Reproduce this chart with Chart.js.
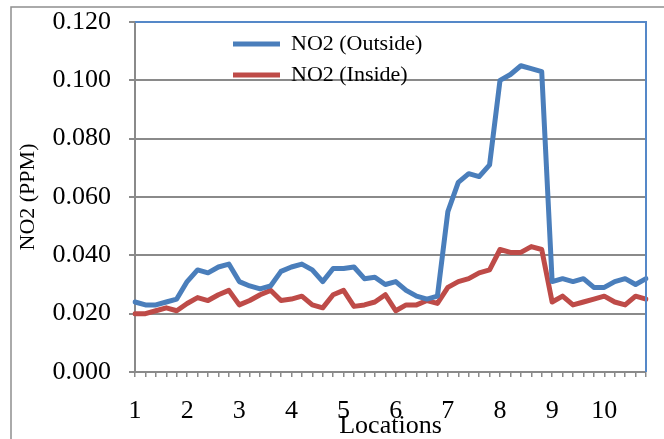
<!DOCTYPE html>
<html>
<head>
<meta charset="utf-8">
<script src="https://cdn.jsdelivr.net/npm/chart.js@4/dist/chart.umd.min.js"></script>
<style>
  html, body { margin: 0; padding: 0; background: #fff; }
  #wrap { width: 664px; height: 439px; }
</style>
</head>
<body>
<div id="wrap"><canvas id="no2Chart" width="664" height="439"></canvas></div>
<script>
// Sampling locations; each location has five consecutive readings
const locations = ['1', '2', '3', '4', '5', '6', '7', '8', '9', '10'];
const samplesPerLocation = 5;

// NO2 concentration (ppm) measured outside
const no2Outside = [
  0.024, 0.023, 0.023, 0.024, 0.025, 0.031, 0.035, 0.034, 0.036, 0.037,
  0.031, 0.0295, 0.0285, 0.0295, 0.0345, 0.036, 0.037, 0.035, 0.031, 0.0355,
  0.0355, 0.036, 0.032, 0.0325, 0.030, 0.031, 0.028, 0.026, 0.025, 0.026,
  0.055, 0.065, 0.068, 0.067, 0.071, 0.100, 0.102, 0.105, 0.104, 0.103,
  0.031, 0.032, 0.031, 0.032, 0.029, 0.029, 0.031, 0.032, 0.030, 0.032
];

// NO2 concentration (ppm) measured inside
const no2Inside = [
  0.020, 0.020, 0.021, 0.022, 0.021, 0.0235, 0.0255, 0.0245, 0.0265, 0.028,
  0.023, 0.0245, 0.0265, 0.028, 0.0245, 0.025, 0.026, 0.023, 0.022, 0.0265,
  0.028, 0.0225, 0.023, 0.024, 0.0265, 0.021, 0.023, 0.023, 0.0245, 0.0235,
  0.029, 0.031, 0.032, 0.034, 0.035, 0.042, 0.041, 0.041, 0.043, 0.042,
  0.024, 0.026, 0.023, 0.024, 0.025, 0.026, 0.024, 0.023, 0.026, 0.025
];

// Y axis range and step
const yMin = 0;
const yMax = 0.12;
const yStep = 0.02;

// One category per reading, labelled with its location on the first reading
const categories = no2Outside.map((_, i) =>
  i % samplesPerLocation === 0 ? locations[i / samplesPerLocation] : '');

const SERIF = "'Liberation Serif', 'Times New Roman', serif";
Chart.defaults.font.family = SERIF;
Chart.defaults.color = '#000';

const AXIS_GRAY = '#8a8a8a';

// Frame around the figure plus the blue top/right edge of the plot area
const framePlugin = {
  id: 'frame',
  beforeDraw(chart) {
    const ctx = chart.ctx;
    ctx.save();
    ctx.fillStyle = '#fff';
    ctx.fillRect(0, 0, chart.width, chart.height);
    ctx.strokeStyle = '#8f8f8f';
    ctx.lineWidth = 1.5;
    ctx.beginPath();
    ctx.moveTo(11, chart.height + 5);
    ctx.lineTo(11, 7);
    ctx.lineTo(chart.width + 5, 7);
    ctx.stroke();
    ctx.restore();
  },
  afterDraw(chart) {
    const {ctx, chartArea: a} = chart;
    ctx.save();
    ctx.strokeStyle = '#5588c8';
    ctx.lineWidth = 2;
    ctx.beginPath();
    ctx.moveTo(a.left, a.top);
    ctx.lineTo(a.right, a.top);
    ctx.lineTo(a.right, a.bottom);
    ctx.stroke();
    ctx.restore();
  }
};

// Place the legend inside the plot, towards its upper middle
const legendShift = {
  id: 'legendShift',
  afterLayout(chart) {
    if (chart.legend) {
      chart.legend.left = 224;
      chart.legend.top = chart.chartArea.top + 2;
    }
  }
};

new Chart(document.getElementById('no2Chart'), {
  type: 'line',
  data: {
    labels: categories,
    datasets: [
      {
        label: 'NO2 (Outside)',
        data: no2Outside,
        borderColor: '#4a7ebb',
        backgroundColor: '#4a7ebb',
        borderWidth: 5,
        borderCapStyle: 'round',
        borderJoinStyle: 'round',
        pointRadius: 0,
        tension: 0
      },
      {
        label: 'NO2 (Inside)',
        data: no2Inside,
        borderColor: '#be4b48',
        backgroundColor: '#be4b48',
        borderWidth: 5,
        borderCapStyle: 'round',
        borderJoinStyle: 'round',
        pointRadius: 0,
        tension: 0
      }
    ]
  },
  options: {
    responsive: false,
    animation: false,
    events: [],
    layout: { padding: { top: 22, right: 18, left: 0, bottom: 0 } },
    plugins: {
      tooltip: { enabled: false },
      legend: {
        position: 'chartArea',
        align: 'start',
        labels: {
          usePointStyle: true,
          pointStyle: 'line',
          pointStyleWidth: 47,
          padding: 9,
          color: '#000',
          font: { family: SERIF, size: 22 }
        }
      }
    },
    scales: {
      x: {
        type: 'category',
        offset: false,
        afterFit(scale) {
          scale.height = 67;
          scale.paddingLeft = 0;
          scale.paddingRight = 0;
        },
        grid: {
          display: true,
          drawOnChartArea: false,
          drawTicks: true,
          tickLength: 5,
          color: AXIS_GRAY,
          lineWidth: 1.5
        },
        border: { display: true, color: AXIS_GRAY, width: 2 },
        ticks: {
          autoSkip: false,
          maxRotation: 0,
          minRotation: 0,
          padding: 19,
          font: { family: SERIF, size: 26 },
          color: '#000'
        },
        title: {
          display: true,
          text: 'Locations',
          font: { family: SERIF, size: 26, lineHeight: 1 },
          padding: { top: 0, bottom: 0 },
          color: '#000'
        }
      },
      y: {
        min: yMin,
        max: yMax,
        afterFit(scale) {
          scale.width = 135;
          scale.paddingTop = 0;
          scale.paddingBottom = 0;
        },
        grid: {
          color: AXIS_GRAY,
          lineWidth: 2,
          tickLength: 6
        },
        border: { display: true, color: AXIS_GRAY, width: 2 },
        ticks: {
          stepSize: yStep,
          padding: 18,
          font: { family: SERIF, size: 26 },
          color: '#000',
          callback: (v) => Number(v).toFixed(3)
        },
        title: {
          display: true,
          text: 'NO2 (PPM)',
          font: { family: SERIF, size: 22, lineHeight: 1.2 },
          padding: { top: 15, bottom: 0 },
          color: '#000'
        }
      }
    }
  },
  plugins: [framePlugin, legendShift]
});
</script>
</body>
</html>
